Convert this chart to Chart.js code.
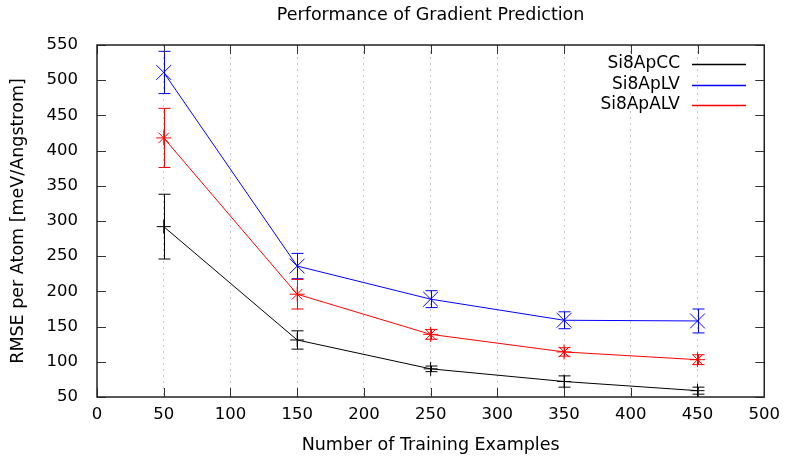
<!DOCTYPE html>
<html>
<head>
<meta charset="utf-8">
<script src="https://cdn.jsdelivr.net/npm/chart.js@4/dist/chart.umd.min.js"></script>
<style>
  html, body { margin: 0; padding: 0; background: #fff; }
  #wrap { width: 788px; height: 460px; }
</style>
</head>
<body>
<div id="wrap"><canvas id="lineChart" width="788" height="460"></canvas></div>
<script>
// data
let examples = [50, 150, 250, 350, 450];

let labels = ['Si8ApCC', 'Si8ApLV', 'Si8ApALV'];
let colors = ['#000000', '#0000ff', '#ff0000'];

let rmseCC = [292, 131, 90, 72, 59];
let errCC = [46, 13, 4, 8, 5];

let rmseLV = [511, 236, 189, 159, 158];
let errLV = [30, 18, 12, 12, 17];

let rmseALV = [418, 196, 139, 114, 103];
let errALV = [42, 21, 7, 6, 7];

let xTicks = [0, 50, 100, 150, 200, 250, 300, 350, 400, 450, 500];
let yTicks = [50, 100, 150, 200, 250, 300, 350, 400, 450, 500, 550];

const FONT = 'DejaVu Sans';

function toPoints(vals) {
    return examples.map((x, i) => ({x: x, y: vals[i]}));
}

// error bars, drawn through the chart scales
const errorBars = {
    id: 'errorBars',
    afterDatasetsDraw(chart) {
        const ctx = chart.ctx;
        const xs = chart.scales.x, ys = chart.scales.y;
        chart.data.datasets.forEach((ds, d) => {
            ctx.save();
            ctx.strokeStyle = colors[d];
            ctx.lineWidth = 1;
            ds.data.forEach((p, i) => {
                const px = Math.round(xs.getPixelForValue(p.x)) + 0.5;
                const top = ys.getPixelForValue(p.y + ds.errors[i]);
                const bot = ys.getPixelForValue(p.y - ds.errors[i]);
                ctx.beginPath();
                ctx.moveTo(px, top); ctx.lineTo(px, bot);
                ctx.moveTo(px - 6, top); ctx.lineTo(px + 6, top);
                ctx.moveTo(px - 6, bot); ctx.lineTo(px + 6, bot);
                ctx.stroke();
            });
            ctx.restore();
        });
    }
};

// gnuplot-ish frame: border box, inward ticks, title, key
const frame = {
    id: 'frame',
    afterDraw(chart) {
        const ctx = chart.ctx;
        const a = chart.chartArea;
        const xs = chart.scales.x, ys = chart.scales.y;
        ctx.save();
        ctx.strokeStyle = '#333';
        ctx.lineWidth = 1;
        ctx.beginPath();
        xTicks.forEach(v => {
            const px = Math.round(xs.getPixelForValue(v)) + 0.5;
            ctx.moveTo(px, a.bottom); ctx.lineTo(px, a.bottom - 9);
            ctx.moveTo(px, a.top); ctx.lineTo(px, a.top + 9);
        });
        yTicks.forEach(v => {
            const py = Math.round(ys.getPixelForValue(v)) + 0.5;
            ctx.moveTo(a.left, py); ctx.lineTo(a.left + 9, py);
            ctx.moveTo(a.right, py); ctx.lineTo(a.right - 9, py);
        });
        ctx.stroke();
        ctx.strokeStyle = '#222';
        ctx.lineWidth = 1.5;
        ctx.strokeRect(a.left, a.top, a.right - a.left, a.bottom - a.top);

        // title centred on the plot area
        ctx.fillStyle = '#000';
        ctx.font = '17.5px "' + FONT + '"';
        ctx.textAlign = 'center';
        ctx.textBaseline = 'middle';
        ctx.fillText('Performance of Gradient Prediction', (a.left + a.right) / 2, 15);

        // key in the top right corner
        ctx.font = '17px "' + FONT + '"';
        ctx.textAlign = 'right';
        labels.forEach((lab, i) => {
            const y = 64 + i * 20.5;
            ctx.fillStyle = '#000';
            ctx.fillText(lab, 680, y);
            ctx.fillStyle = colors[i];
            ctx.fillRect(692, Math.round(y) - 0.25, 54, 1.5);
        });
        ctx.restore();
    }
};

let ctx = document.getElementById('lineChart').getContext('2d');
let chart = new Chart(ctx, {
    type: 'line',
    data: {
        datasets: [{
            label: labels[0],
            data: toPoints(rmseCC),
            errors: errCC,
            borderColor: colors[0],
            backgroundColor: colors[0],
            borderWidth: 1,
            pointStyle: 'cross',
            pointRadius: 7,
            pointBorderWidth: 1,
            tension: 0
        },
        {
            label: labels[1],
            data: toPoints(rmseLV),
            errors: errLV,
            borderColor: colors[1],
            backgroundColor: colors[1],
            borderWidth: 1,
            pointStyle: 'crossRot',
            pointRadius: 10.5,
            pointBorderWidth: 1,
            tension: 0
        },
        {
            label: labels[2],
            data: toPoints(rmseALV),
            errors: errALV,
            borderColor: colors[2],
            backgroundColor: colors[2],
            borderWidth: 1,
            pointStyle: 'star',
            pointRadius: 7.5,
            pointBorderWidth: 1,
            tension: 0
        }]
    },
    options: {
        responsive: false,
        animation: false,
        layout: { padding: { top: 45, right: 18, left: 0, bottom: 0 } },
        plugins: {
            legend: { display: false },
            title: { display: false },
            tooltip: { enabled: false }
        },
        scales: {
            x: {
                type: 'linear',
                min: 0,
                max: 500,
                afterBuildTicks: s => { s.ticks = xTicks.map(v => ({value: v})); },
                afterFit: s => { s.height = 63; },
                grid: {
                    color: c => (c.tick.value === 0 || c.tick.value === 500) ? 'rgba(0,0,0,0)' : '#c8c8c8',
                    lineWidth: 1,
                    drawTicks: false
                },
                border: { display: false, dash: [2, 4] },
                ticks: {
                    color: '#000',
                    font: { family: FONT, size: 16.5 },
                    padding: 8,
                    maxRotation: 0
                },
                title: {
                    display: true,
                    text: 'Number of Training Examples',
                    color: '#000',
                    font: { family: FONT, size: 17.5 },
                    padding: { top: 6 }
                }
            },
            y: {
                type: 'linear',
                min: 50,
                max: 550,
                afterBuildTicks: s => { s.ticks = yTicks.map(v => ({value: v})); },
                afterFit: s => { s.width = 97; },
                grid: { display: false },
                border: { display: false },
                ticks: {
                    color: '#000',
                    font: { family: FONT, size: 16.5 },
                    padding: 11
                },
                title: {
                    display: true,
                    text: 'RMSE per Atom [meV/Angstrom]',
                    color: '#000',
                    font: { family: FONT, size: 17.5 },
                    padding: { top: 8, bottom: 0 }
                }
            }
        }
    },
    plugins: [errorBars, frame]
});

// dotted vertical grid lines like the reference
chart.options.scales.x.border.dash = [2, 4];
chart.update();
</script>
</body>
</html>
